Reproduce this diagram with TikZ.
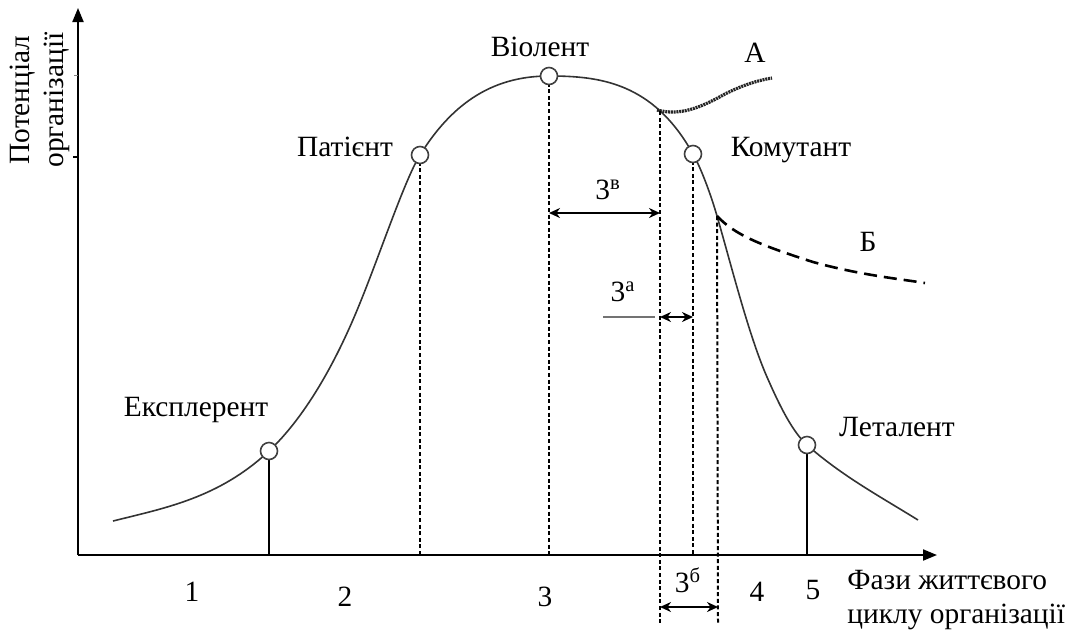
\documentclass[tikz,border=0pt]{standalone}
\usepackage{fontspec}
\setmainfont{Liberation Serif}
\usetikzlibrary{arrows.meta}

\tikzset{
  phase/.style={circle, draw=black!75, fill=white, line width=0.8pt, inner sep=0pt, minimum size=8.5pt},
  guide/.style={line width=1pt, dash pattern=on 2pt off 1.3pt},
  span/.style={line width=1pt, {Stealth[length=5.5pt,width=5pt]}-{Stealth[length=5.5pt,width=5pt]}},
  axis/.style={line width=1pt, -{Triangle[length=7pt,width=5.5pt]}},
}

\begin{document}
\begin{tikzpicture}[x=0.5pt, y=-0.5pt, font=\fontsize{14.7}{17}\selectfont]
  \useasboundingbox (0,0) rectangle (1071,634);

  % axes
  \coordinate (O) at (78,555);
  \draw[axis] (O) -- (78,8) coordinate (ytop);
  \draw[axis] (O) -- (937,555) coordinate (xend);
  \draw[line width=0.6pt] (73,157) -- (78,157);
  \draw[line width=0.4pt, black!50] (74,75) -- (78,75);

  % points on the curve
  \coordinate (expl) at (269,451);
  \coordinate (pat)  at (420,155);
  \coordinate (viol) at (549,76);
  \coordinate (a0)   at (657,110);
  \coordinate (kom)  at (693,154);
  \coordinate (b0)   at (717,216);
  \coordinate (let)  at (807,445);

  % life cycle curve
  \draw[line width=0.8pt, black!80]
    (113,521) .. controls (165,508) and (219,498) .. (expl)
    .. controls (304,418) and (335,365) .. (360,303)
    .. controls (380,254) and (405,179) .. (pat)
    .. controls (450,107) and (489,76) .. (viol)
    .. controls (599,76) and (653,82) .. (kom)
    .. controls (701,168) and (711,195) .. (b0)
    .. controls (732,268) and (749,336) .. (767,377)
    .. controls (781,409) and (793,432) .. (let)
    .. controls (842,476) and (881,497) .. (918,520);

  % branches
  \draw[line width=1.6pt, black!85, dash pattern=on 1pt off 0.4pt]
    (a0) .. controls (680,116) and (700,108) .. (725,94)
         .. controls (745,84) and (760,80) .. (772,78) coordinate (aend);
  \draw[line width=1.3pt, dash pattern=on 6.5pt off 3.5pt]
    (b0) .. controls (735,235) and (760,245) .. (813,262)
         .. controls (860,275) and (900,279) .. (925,283) coordinate (bend);

  % guide lines
  \draw[line width=0.6pt] (expl) -- (expl |- O);
  \draw[line width=0.6pt] (let) -- (let |- O);
  \draw[guide] (pat) -- (pat |- O);
  \draw[guide] (viol) -- (viol |- O);
  \draw[guide] (kom) -- (kom |- O);
  \draw[guide] (660,111) coordinate (atop) -- (660,623) coordinate (abot);
  \draw[guide] (b0) -- (718,623) coordinate (bbot);

  % phase points
  \node[phase] (nexpl) at (expl) {};
  \node[phase] (npat)  at (pat)  {};
  \node[phase] (nviol) at (viol) {};
  \node[phase] (nkom)  at (kom)  {};
  \node[phase] (nlet)  at (let)  {};

  % phase names
  \node (lexpl) at (196,410) {Експлерент};
  \node (lpat)  at (345,147) {Патієнт};
  \node (lviol) at (540,47)  {Віолент};
  \node (lkom)  at (791,150) {Комутант};
  \node (llet)  at (897,427) {Леталент};
  \node (la)    at (755,53)  {А};
  \node (lb)    at (868,242) {Б};

  % crisis intervals
  \coordinate (zv1) at (viol |- 0,213);
  \coordinate (zv2) at (atop |- 0,213);
  \draw[span] (zv1) -- (zv2);
  \node (zv) at (608,190) {3\textsuperscript{в}};

  \coordinate (za1) at (atop |- 0,317);
  \coordinate (za2) at (kom |- 0,317);
  \draw[span] (za1) -- (za2);
  \draw[line width=0.6pt, black!55] (603,317) -- (655,317);
  \node (za) at (623,292) {3\textsuperscript{а}};

  \coordinate (zb1) at (atop |- 0,607);
  \coordinate (zb2) at (bbot |- 0,607);
  \draw[span] (zb1) -- (zb2);
  \node (zb) at (688,580) {3\textsuperscript{б}};

  % phase numbers
  \node (p1) at (192,592) {1};
  \node (p2) at (345,597) {2};
  \node (p3) at (545,597) {3};
  \node (p4) at (757,592) {4};
  \node (p5) at (813,590) {5};

  % axis titles
  \node[anchor=west, align=left, inner sep=0pt] (xlab) at (847,600)
    {Фази життєвого\\циклу організації};
  \node[rotate=90, align=center, inner sep=0pt] (ylab) at (40,100)
    {Потенціал\\організації};
\end{tikzpicture}
\end{document}
